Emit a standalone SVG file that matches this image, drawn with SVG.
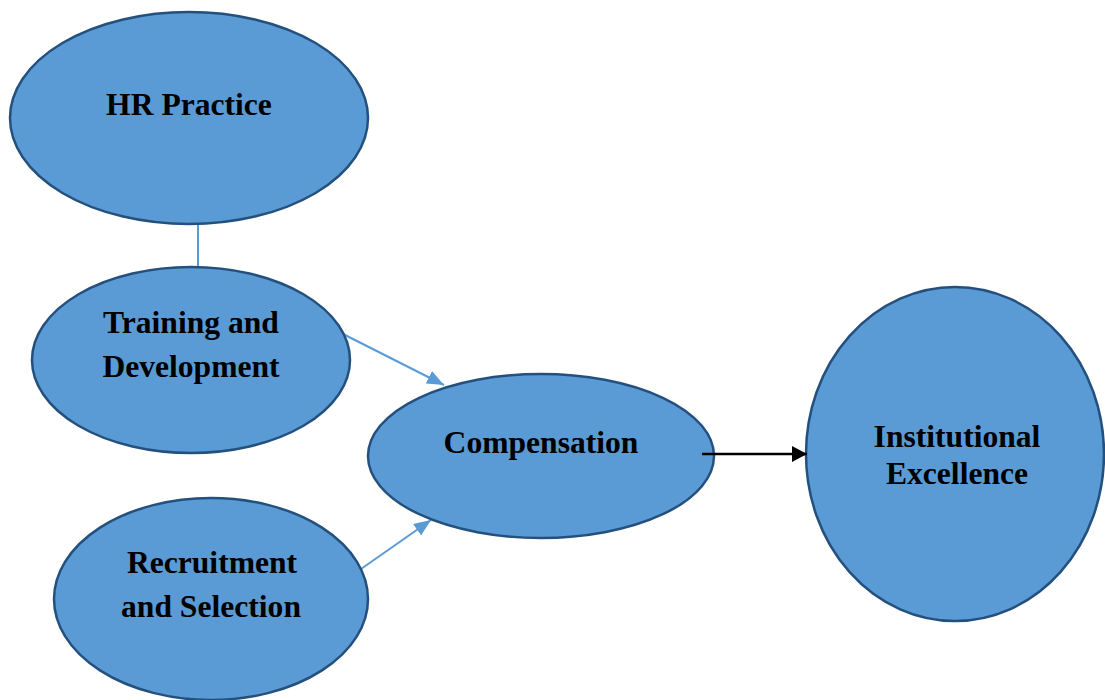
<svg xmlns="http://www.w3.org/2000/svg" width="1105" height="700" viewBox="0 0 1105 700">
<style>
.node ellipse{fill:#5B9BD5;stroke:#24507E;stroke-width:2.5}
.node text{font-family:"Liberation Serif","Times New Roman",serif;font-weight:bold;font-size:31.6px;fill:#000;text-anchor:middle}
.blue{stroke:#5B9BD5;stroke-width:2;fill:none}
.black{stroke:#000;stroke-width:2.5;fill:none}
</style>
<defs>
<marker id="ab" markerUnits="userSpaceOnUse" markerWidth="18" markerHeight="14" refX="17" refY="7" orient="auto"><path d="M0,0 L17,7 L0,14 Z" fill="#5B9BD5"/></marker>
<marker id="ak" markerUnits="userSpaceOnUse" markerWidth="16" markerHeight="16" refX="15" refY="8" orient="auto"><path d="M0,0 L15,8 L0,16 Z" fill="#000"/></marker>
</defs>
<rect width="1105" height="700" fill="#fff"/>
<g id="connectors">
<line class="blue" x1="198" y1="224" x2="198" y2="268"/>
<line class="blue" x1="343" y1="334" x2="444" y2="385" marker-end="url(#ab)"/>
<line class="blue" x1="361" y1="569" x2="431" y2="520" marker-end="url(#ab)"/>
</g>
<g id="hr" class="node"><ellipse cx="189" cy="118" rx="179" ry="106"/><text x="189" y="115">HR Practice</text></g>
<g id="training" class="node"><ellipse cx="191" cy="360" rx="159" ry="93"/><text x="191" y="333">Training and</text><text x="191" y="377">Development</text></g>
<g id="compensation" class="node"><ellipse cx="541" cy="456" rx="173" ry="82"/><text x="541" y="453">Compensation</text></g>
<g id="recruitment" class="node"><ellipse cx="211" cy="599" rx="157" ry="101"/><text x="212" y="573">Recruitment</text><text x="211" y="617">and Selection</text></g>
<g id="excellence" class="node"><ellipse cx="955" cy="454" rx="149" ry="167"/><text x="957" y="447">Institutional</text><text x="957" y="484">Excellence</text></g>
<g id="connectors-front">
<line class="black" x1="702" y1="454" x2="807" y2="454" marker-end="url(#ak)"/>
</g>
</svg>
